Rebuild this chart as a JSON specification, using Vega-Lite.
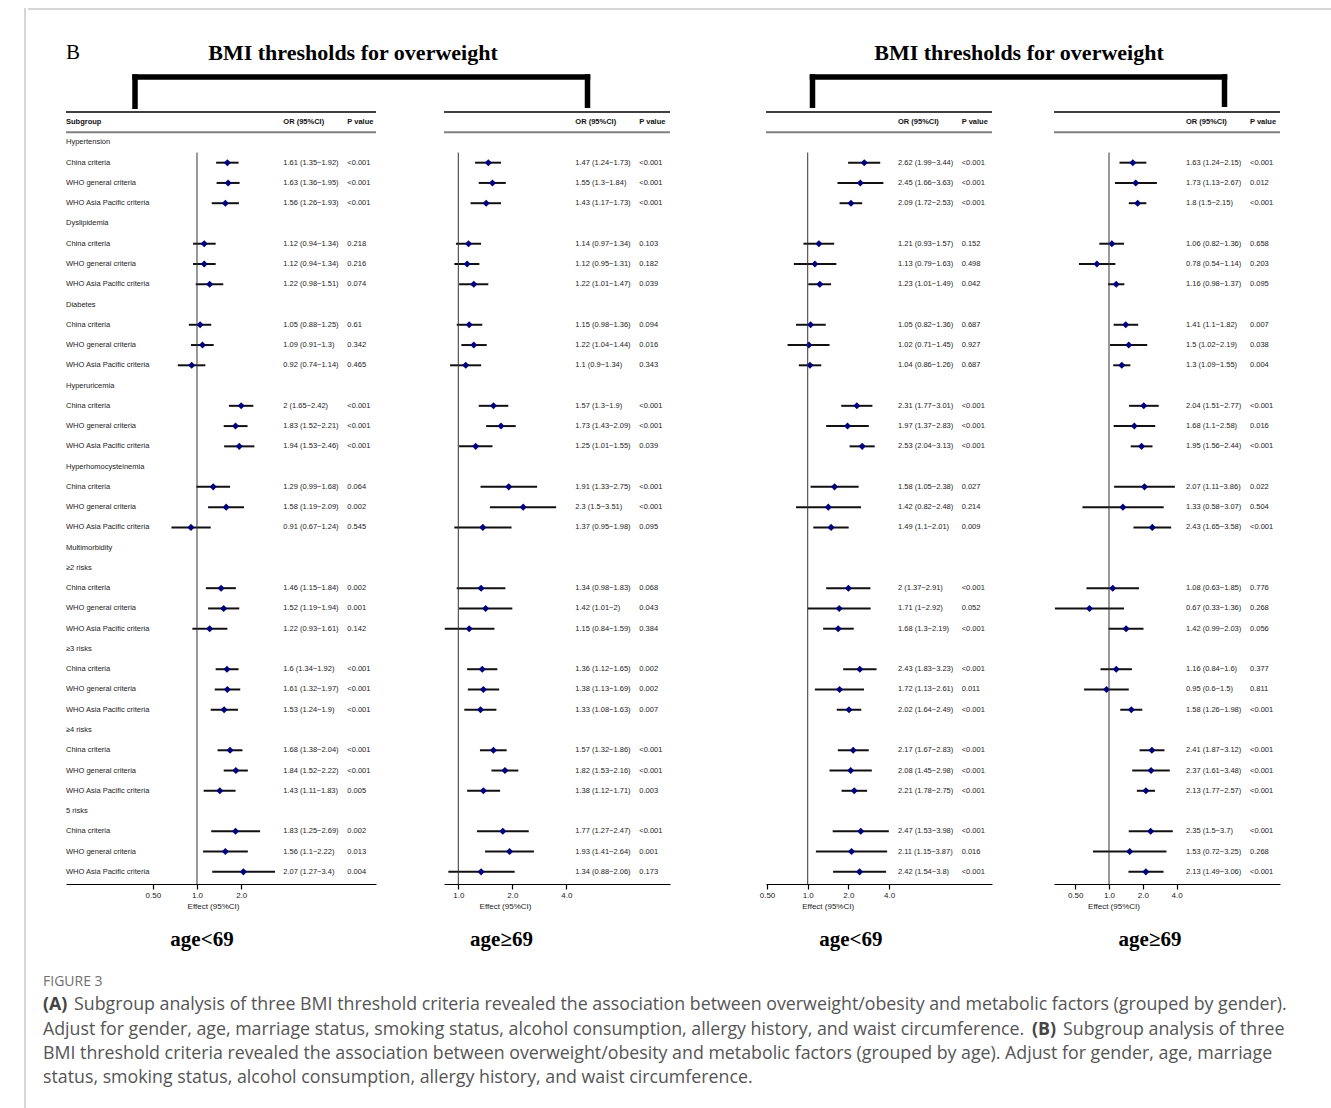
{
"$schema": "https://vega.github.io/schema/vega-lite/v6.json",
"background": "white",
"padding": {"left": 24, "top": 7, "right": 0, "bottom": 0},
"config": {
  "view": {"stroke": null},
  "font": "Liberation Sans",
  "axisX": {"grid": false, "domainColor": "black", "domainWidth": 1.2, "tickColor": "black", "tickSize": 5, "tickWidth": 1.2,
    "labelFontSize": 8, "labelColor": "#222", "labelPadding": 2, "labelFont": "Liberation Sans",
    "labelExpr": "datum.value < 0.9 ? '0.50' : format(datum.value, '.1f')",
    "titleFontSize": 8, "titleFontWeight": "normal", "titleColor": "#222", "titleFont": "Liberation Sans", "titleY": 18, "titleBaseline": "top"}
},
"datasets": {
  "lab": [
    {"r":1,"label":"Hypertension"},{"r":2,"label":"China criteria"},{"r":3,"label":"WHO general criteria"},{"r":4,"label":"WHO Asia Pacific criteria"},
    {"r":5,"label":"Dyslipidemia"},{"r":6,"label":"China criteria"},{"r":7,"label":"WHO general criteria"},{"r":8,"label":"WHO Asia Pacific criteria"},
    {"r":9,"label":"Diabetes"},{"r":10,"label":"China criteria"},{"r":11,"label":"WHO general criteria"},{"r":12,"label":"WHO Asia Pacific criteria"},
    {"r":13,"label":"Hyperuricemia"},{"r":14,"label":"China criteria"},{"r":15,"label":"WHO general criteria"},{"r":16,"label":"WHO Asia Pacific criteria"},
    {"r":17,"label":"Hyperhomocysteinemia"},{"r":18,"label":"China criteria"},{"r":19,"label":"WHO general criteria"},{"r":20,"label":"WHO Asia Pacific criteria"},
    {"r":21,"label":"Multimorbidity"},
    {"r":22,"label":"≥2 risks"},{"r":23,"label":"China criteria"},{"r":24,"label":"WHO general criteria"},{"r":25,"label":"WHO Asia Pacific criteria"},
    {"r":26,"label":"≥3 risks"},{"r":27,"label":"China criteria"},{"r":28,"label":"WHO general criteria"},{"r":29,"label":"WHO Asia Pacific criteria"},
    {"r":30,"label":"≥4 risks"},{"r":31,"label":"China criteria"},{"r":32,"label":"WHO general criteria"},{"r":33,"label":"WHO Asia Pacific criteria"},
    {"r":34,"label":"5 risks"},{"r":35,"label":"China criteria"},{"r":36,"label":"WHO general criteria"},{"r":37,"label":"WHO Asia Pacific criteria"}
  ],
  "v": [
    {"p":1,"r":2,"or":1.61,"lo":1.35,"hi":1.92,"t":"1.61 (1.35~1.92)","pv":"<0.001"},
    {"p":1,"r":3,"or":1.63,"lo":1.36,"hi":1.95,"t":"1.63 (1.36~1.95)","pv":"<0.001"},
    {"p":1,"r":4,"or":1.56,"lo":1.26,"hi":1.93,"t":"1.56 (1.26~1.93)","pv":"<0.001"},
    {"p":1,"r":6,"or":1.12,"lo":0.94,"hi":1.34,"t":"1.12 (0.94~1.34)","pv":"0.218"},
    {"p":1,"r":7,"or":1.12,"lo":0.94,"hi":1.34,"t":"1.12 (0.94~1.34)","pv":"0.216"},
    {"p":1,"r":8,"or":1.22,"lo":0.98,"hi":1.51,"t":"1.22 (0.98~1.51)","pv":"0.074"},
    {"p":1,"r":10,"or":1.05,"lo":0.88,"hi":1.25,"t":"1.05 (0.88~1.25)","pv":"0.61"},
    {"p":1,"r":11,"or":1.09,"lo":0.91,"hi":1.3,"t":"1.09 (0.91~1.3)","pv":"0.342"},
    {"p":1,"r":12,"or":0.92,"lo":0.74,"hi":1.14,"t":"0.92 (0.74~1.14)","pv":"0.465"},
    {"p":1,"r":14,"or":2,"lo":1.65,"hi":2.42,"t":"2 (1.65~2.42)","pv":"<0.001"},
    {"p":1,"r":15,"or":1.83,"lo":1.52,"hi":2.21,"t":"1.83 (1.52~2.21)","pv":"<0.001"},
    {"p":1,"r":16,"or":1.94,"lo":1.53,"hi":2.46,"t":"1.94 (1.53~2.46)","pv":"<0.001"},
    {"p":1,"r":18,"or":1.29,"lo":0.99,"hi":1.68,"t":"1.29 (0.99~1.68)","pv":"0.064"},
    {"p":1,"r":19,"or":1.58,"lo":1.19,"hi":2.09,"t":"1.58 (1.19~2.09)","pv":"0.002"},
    {"p":1,"r":20,"or":0.91,"lo":0.67,"hi":1.24,"t":"0.91 (0.67~1.24)","pv":"0.545"},
    {"p":1,"r":23,"or":1.46,"lo":1.15,"hi":1.84,"t":"1.46 (1.15~1.84)","pv":"0.002"},
    {"p":1,"r":24,"or":1.52,"lo":1.19,"hi":1.94,"t":"1.52 (1.19~1.94)","pv":"0.001"},
    {"p":1,"r":25,"or":1.22,"lo":0.93,"hi":1.61,"t":"1.22 (0.93~1.61)","pv":"0.142"},
    {"p":1,"r":27,"or":1.6,"lo":1.34,"hi":1.92,"t":"1.6 (1.34~1.92)","pv":"<0.001"},
    {"p":1,"r":28,"or":1.61,"lo":1.32,"hi":1.97,"t":"1.61 (1.32~1.97)","pv":"<0.001"},
    {"p":1,"r":29,"or":1.53,"lo":1.24,"hi":1.9,"t":"1.53 (1.24~1.9)","pv":"<0.001"},
    {"p":1,"r":31,"or":1.68,"lo":1.38,"hi":2.04,"t":"1.68 (1.38~2.04)","pv":"<0.001"},
    {"p":1,"r":32,"or":1.84,"lo":1.52,"hi":2.22,"t":"1.84 (1.52~2.22)","pv":"<0.001"},
    {"p":1,"r":33,"or":1.43,"lo":1.11,"hi":1.83,"t":"1.43 (1.11~1.83)","pv":"0.005"},
    {"p":1,"r":35,"or":1.83,"lo":1.25,"hi":2.69,"t":"1.83 (1.25~2.69)","pv":"0.002"},
    {"p":1,"r":36,"or":1.56,"lo":1.1,"hi":2.22,"t":"1.56 (1.1~2.22)","pv":"0.013"},
    {"p":1,"r":37,"or":2.07,"lo":1.27,"hi":3.4,"t":"2.07 (1.27~3.4)","pv":"0.004"},

    {"p":2,"r":2,"or":1.47,"lo":1.24,"hi":1.73,"t":"1.47 (1.24~1.73)","pv":"<0.001"},
    {"p":2,"r":3,"or":1.55,"lo":1.3,"hi":1.84,"t":"1.55 (1.3~1.84)","pv":"<0.001"},
    {"p":2,"r":4,"or":1.43,"lo":1.17,"hi":1.73,"t":"1.43 (1.17~1.73)","pv":"<0.001"},
    {"p":2,"r":6,"or":1.14,"lo":0.97,"hi":1.34,"t":"1.14 (0.97~1.34)","pv":"0.103"},
    {"p":2,"r":7,"or":1.12,"lo":0.95,"hi":1.31,"t":"1.12 (0.95~1.31)","pv":"0.182"},
    {"p":2,"r":8,"or":1.22,"lo":1.01,"hi":1.47,"t":"1.22 (1.01~1.47)","pv":"0.039"},
    {"p":2,"r":10,"or":1.15,"lo":0.98,"hi":1.36,"t":"1.15 (0.98~1.36)","pv":"0.094"},
    {"p":2,"r":11,"or":1.22,"lo":1.04,"hi":1.44,"t":"1.22 (1.04~1.44)","pv":"0.016"},
    {"p":2,"r":12,"or":1.1,"lo":0.9,"hi":1.34,"t":"1.1 (0.9~1.34)","pv":"0.343"},
    {"p":2,"r":14,"or":1.57,"lo":1.3,"hi":1.9,"t":"1.57 (1.3~1.9)","pv":"<0.001"},
    {"p":2,"r":15,"or":1.73,"lo":1.43,"hi":2.09,"t":"1.73 (1.43~2.09)","pv":"<0.001"},
    {"p":2,"r":16,"or":1.25,"lo":1.01,"hi":1.55,"t":"1.25 (1.01~1.55)","pv":"0.039"},
    {"p":2,"r":18,"or":1.91,"lo":1.33,"hi":2.75,"t":"1.91 (1.33~2.75)","pv":"<0.001"},
    {"p":2,"r":19,"or":2.3,"lo":1.5,"hi":3.51,"t":"2.3 (1.5~3.51)","pv":"<0.001"},
    {"p":2,"r":20,"or":1.37,"lo":0.95,"hi":1.98,"t":"1.37 (0.95~1.98)","pv":"0.095"},
    {"p":2,"r":23,"or":1.34,"lo":0.98,"hi":1.83,"t":"1.34 (0.98~1.83)","pv":"0.068"},
    {"p":2,"r":24,"or":1.42,"lo":1.01,"hi":2,"t":"1.42 (1.01~2)","pv":"0.043"},
    {"p":2,"r":25,"or":1.15,"lo":0.84,"hi":1.59,"t":"1.15 (0.84~1.59)","pv":"0.384"},
    {"p":2,"r":27,"or":1.36,"lo":1.12,"hi":1.65,"t":"1.36 (1.12~1.65)","pv":"0.002"},
    {"p":2,"r":28,"or":1.38,"lo":1.13,"hi":1.69,"t":"1.38 (1.13~1.69)","pv":"0.002"},
    {"p":2,"r":29,"or":1.33,"lo":1.08,"hi":1.63,"t":"1.33 (1.08~1.63)","pv":"0.007"},
    {"p":2,"r":31,"or":1.57,"lo":1.32,"hi":1.86,"t":"1.57 (1.32~1.86)","pv":"<0.001"},
    {"p":2,"r":32,"or":1.82,"lo":1.53,"hi":2.16,"t":"1.82 (1.53~2.16)","pv":"<0.001"},
    {"p":2,"r":33,"or":1.38,"lo":1.12,"hi":1.71,"t":"1.38 (1.12~1.71)","pv":"0.003"},
    {"p":2,"r":35,"or":1.77,"lo":1.27,"hi":2.47,"t":"1.77 (1.27~2.47)","pv":"<0.001"},
    {"p":2,"r":36,"or":1.93,"lo":1.41,"hi":2.64,"t":"1.93 (1.41~2.64)","pv":"0.001"},
    {"p":2,"r":37,"or":1.34,"lo":0.88,"hi":2.06,"t":"1.34 (0.88~2.06)","pv":"0.173"},

    {"p":3,"r":2,"or":2.62,"lo":1.99,"hi":3.44,"t":"2.62 (1.99~3.44)","pv":"<0.001"},
    {"p":3,"r":3,"or":2.45,"lo":1.66,"hi":3.63,"t":"2.45 (1.66~3.63)","pv":"<0.001"},
    {"p":3,"r":4,"or":2.09,"lo":1.72,"hi":2.53,"t":"2.09 (1.72~2.53)","pv":"<0.001"},
    {"p":3,"r":6,"or":1.21,"lo":0.93,"hi":1.57,"t":"1.21 (0.93~1.57)","pv":"0.152"},
    {"p":3,"r":7,"or":1.13,"lo":0.79,"hi":1.63,"t":"1.13 (0.79~1.63)","pv":"0.498"},
    {"p":3,"r":8,"or":1.23,"lo":1.01,"hi":1.49,"t":"1.23 (1.01~1.49)","pv":"0.042"},
    {"p":3,"r":10,"or":1.05,"lo":0.82,"hi":1.36,"t":"1.05 (0.82~1.36)","pv":"0.687"},
    {"p":3,"r":11,"or":1.02,"lo":0.71,"hi":1.45,"t":"1.02 (0.71~1.45)","pv":"0.927"},
    {"p":3,"r":12,"or":1.04,"lo":0.86,"hi":1.26,"t":"1.04 (0.86~1.26)","pv":"0.687"},
    {"p":3,"r":14,"or":2.31,"lo":1.77,"hi":3.01,"t":"2.31 (1.77~3.01)","pv":"<0.001"},
    {"p":3,"r":15,"or":1.97,"lo":1.37,"hi":2.83,"t":"1.97 (1.37~2.83)","pv":"<0.001"},
    {"p":3,"r":16,"or":2.53,"lo":2.04,"hi":3.13,"t":"2.53 (2.04~3.13)","pv":"<0.001"},
    {"p":3,"r":18,"or":1.58,"lo":1.05,"hi":2.38,"t":"1.58 (1.05~2.38)","pv":"0.027"},
    {"p":3,"r":19,"or":1.42,"lo":0.82,"hi":2.48,"t":"1.42 (0.82~2.48)","pv":"0.214"},
    {"p":3,"r":20,"or":1.49,"lo":1.1,"hi":2.01,"t":"1.49 (1.1~2.01)","pv":"0.009"},
    {"p":3,"r":23,"or":2,"lo":1.37,"hi":2.91,"t":"2 (1.37~2.91)","pv":"<0.001"},
    {"p":3,"r":24,"or":1.71,"lo":1,"hi":2.92,"t":"1.71 (1~2.92)","pv":"0.052"},
    {"p":3,"r":25,"or":1.68,"lo":1.3,"hi":2.19,"t":"1.68 (1.3~2.19)","pv":"<0.001"},
    {"p":3,"r":27,"or":2.43,"lo":1.83,"hi":3.23,"t":"2.43 (1.83~3.23)","pv":"<0.001"},
    {"p":3,"r":28,"or":1.72,"lo":1.13,"hi":2.61,"t":"1.72 (1.13~2.61)","pv":"0.011"},
    {"p":3,"r":29,"or":2.02,"lo":1.64,"hi":2.49,"t":"2.02 (1.64~2.49)","pv":"<0.001"},
    {"p":3,"r":31,"or":2.17,"lo":1.67,"hi":2.83,"t":"2.17 (1.67~2.83)","pv":"<0.001"},
    {"p":3,"r":32,"or":2.08,"lo":1.45,"hi":2.98,"t":"2.08 (1.45~2.98)","pv":"<0.001"},
    {"p":3,"r":33,"or":2.21,"lo":1.78,"hi":2.75,"t":"2.21 (1.78~2.75)","pv":"<0.001"},
    {"p":3,"r":35,"or":2.47,"lo":1.53,"hi":3.98,"t":"2.47 (1.53~3.98)","pv":"<0.001"},
    {"p":3,"r":36,"or":2.11,"lo":1.15,"hi":3.87,"t":"2.11 (1.15~3.87)","pv":"0.016"},
    {"p":3,"r":37,"or":2.42,"lo":1.54,"hi":3.8,"t":"2.42 (1.54~3.8)","pv":"<0.001"},

    {"p":4,"r":2,"or":1.63,"lo":1.24,"hi":2.15,"t":"1.63 (1.24~2.15)","pv":"<0.001"},
    {"p":4,"r":3,"or":1.73,"lo":1.13,"hi":2.67,"t":"1.73 (1.13~2.67)","pv":"0.012"},
    {"p":4,"r":4,"or":1.8,"lo":1.5,"hi":2.15,"t":"1.8 (1.5~2.15)","pv":"<0.001"},
    {"p":4,"r":6,"or":1.06,"lo":0.82,"hi":1.36,"t":"1.06 (0.82~1.36)","pv":"0.658"},
    {"p":4,"r":7,"or":0.78,"lo":0.54,"hi":1.14,"t":"0.78 (0.54~1.14)","pv":"0.203"},
    {"p":4,"r":8,"or":1.16,"lo":0.98,"hi":1.37,"t":"1.16 (0.98~1.37)","pv":"0.095"},
    {"p":4,"r":10,"or":1.41,"lo":1.1,"hi":1.82,"t":"1.41 (1.1~1.82)","pv":"0.007"},
    {"p":4,"r":11,"or":1.5,"lo":1.02,"hi":2.19,"t":"1.5 (1.02~2.19)","pv":"0.038"},
    {"p":4,"r":12,"or":1.3,"lo":1.09,"hi":1.55,"t":"1.3 (1.09~1.55)","pv":"0.004"},
    {"p":4,"r":14,"or":2.04,"lo":1.51,"hi":2.77,"t":"2.04 (1.51~2.77)","pv":"<0.001"},
    {"p":4,"r":15,"or":1.68,"lo":1.1,"hi":2.58,"t":"1.68 (1.1~2.58)","pv":"0.016"},
    {"p":4,"r":16,"or":1.95,"lo":1.56,"hi":2.44,"t":"1.95 (1.56~2.44)","pv":"<0.001"},
    {"p":4,"r":18,"or":2.07,"lo":1.11,"hi":3.86,"t":"2.07 (1.11~3.86)","pv":"0.022"},
    {"p":4,"r":19,"or":1.33,"lo":0.58,"hi":3.07,"t":"1.33 (0.58~3.07)","pv":"0.504"},
    {"p":4,"r":20,"or":2.43,"lo":1.65,"hi":3.58,"t":"2.43 (1.65~3.58)","pv":"<0.001"},
    {"p":4,"r":23,"or":1.08,"lo":0.63,"hi":1.85,"t":"1.08 (0.63~1.85)","pv":"0.776"},
    {"p":4,"r":24,"or":0.67,"lo":0.33,"hi":1.36,"t":"0.67 (0.33~1.36)","pv":"0.268"},
    {"p":4,"r":25,"or":1.42,"lo":0.99,"hi":2.03,"t":"1.42 (0.99~2.03)","pv":"0.056"},
    {"p":4,"r":27,"or":1.16,"lo":0.84,"hi":1.6,"t":"1.16 (0.84~1.6)","pv":"0.377"},
    {"p":4,"r":28,"or":0.95,"lo":0.6,"hi":1.5,"t":"0.95 (0.6~1.5)","pv":"0.811"},
    {"p":4,"r":29,"or":1.58,"lo":1.26,"hi":1.98,"t":"1.58 (1.26~1.98)","pv":"<0.001"},
    {"p":4,"r":31,"or":2.41,"lo":1.87,"hi":3.12,"t":"2.41 (1.87~3.12)","pv":"<0.001"},
    {"p":4,"r":32,"or":2.37,"lo":1.61,"hi":3.48,"t":"2.37 (1.61~3.48)","pv":"<0.001"},
    {"p":4,"r":33,"or":2.13,"lo":1.77,"hi":2.57,"t":"2.13 (1.77~2.57)","pv":"<0.001"},
    {"p":4,"r":35,"or":2.35,"lo":1.5,"hi":3.7,"t":"2.35 (1.5~3.7)","pv":"<0.001"},
    {"p":4,"r":36,"or":1.53,"lo":0.72,"hi":3.25,"t":"1.53 (0.72~3.25)","pv":"0.268"},
    {"p":4,"r":37,"or":2.13,"lo":1.49,"hi":3.06,"t":"2.13 (1.49~3.06)","pv":"<0.001"}
  ]
},
"hconcat": [
  {"width": 3, "height": 1101, "data": {"values": [{}]},
   "mark": {"type": "rule", "color": "#c8c8c8", "strokeWidth": 1.5},
   "encoding": {"x": {"datum": 1, "type": "quantitative", "scale": {"domain": [0, 3]}, "axis": null}}},
  {"vconcat": [
    {"width": 1304, "height": 101, "data": {"values": [{}]},
     "layer": [
       {"mark": {"type": "rule", "color": "#c8c8c8", "strokeWidth": 1.5},
        "encoding": {"y": {"datum": 8, "type": "quantitative", "scale": {"domain": [7, 108], "reverse": true, "nice": false, "zero": false}, "axis": null}}},
       {"mark": {"type": "text", "text": "B", "font": "Liberation Serif", "fontSize": 21, "align": "center", "baseline": "middle", "color": "black"},
        "encoding": {"x": {"datum": 72, "type": "quantitative", "scale": {"domain": [27, 1331], "nice": false, "zero": false}, "axis": null}, "y": {"datum": 52, "type": "quantitative", "axis": null}}},
       {"mark": {"type": "text", "text": "BMI thresholds for overweight", "font": "Liberation Serif", "fontSize": 22, "fontWeight": "bold", "align": "center", "baseline": "middle", "color": "black"},
        "encoding": {"x": {"datum": 352, "type": "quantitative", "axis": null}, "y": {"datum": 52, "type": "quantitative", "axis": null}}},
       {"mark": {"type": "text", "text": "BMI thresholds for overweight", "font": "Liberation Serif", "fontSize": 22, "fontWeight": "bold", "align": "center", "baseline": "middle", "color": "black"},
        "encoding": {"x": {"datum": 1018, "type": "quantitative", "axis": null}, "y": {"datum": 52, "type": "quantitative", "axis": null}}},
       {"mark": {"type": "rect", "color": "black"},
        "encoding": {"x": {"datum": 131.25, "type": "quantitative", "axis": null}, "x2": {"datum": 589.25}, "y": {"datum": 73.25, "type": "quantitative", "axis": null}, "y2": {"datum": 78.75}}},
       {"mark": {"type": "rect", "color": "black"},
        "encoding": {"x": {"datum": 131.25, "type": "quantitative", "axis": null}, "x2": {"datum": 136.75}, "y": {"datum": 73.25, "type": "quantitative", "axis": null}, "y2": {"datum": 108}}},
       {"mark": {"type": "rect", "color": "black"},
        "encoding": {"x": {"datum": 583.75, "type": "quantitative", "axis": null}, "x2": {"datum": 589.25}, "y": {"datum": 73.25, "type": "quantitative", "axis": null}, "y2": {"datum": 107}}},
       {"mark": {"type": "rect", "color": "black"},
        "encoding": {"x": {"datum": 808.75, "type": "quantitative", "axis": null}, "x2": {"datum": 1226.25}, "y": {"datum": 73.25, "type": "quantitative", "axis": null}, "y2": {"datum": 78.75}}},
       {"mark": {"type": "rect", "color": "black"},
        "encoding": {"x": {"datum": 808.75, "type": "quantitative", "axis": null}, "x2": {"datum": 814.25}, "y": {"datum": 73.25, "type": "quantitative", "axis": null}, "y2": {"datum": 107}}},
       {"mark": {"type": "rect", "color": "black"},
        "encoding": {"x": {"datum": 1220.75, "type": "quantitative", "axis": null}, "x2": {"datum": 1226.25}, "y": {"datum": 73.25, "type": "quantitative", "axis": null}, "y2": {"datum": 106}}}
     ]},
    {"hconcat": [
      {"width": 38, "height": 1, "data": {"values": [{}]}, "mark": {"type": "rule", "opacity": 0}, "encoding": {}},
      {"width": 310, "height": 774,
       "title": {"text": "age<69", "orient": "bottom", "anchor": "start", "align": "center", "dx": 137, "offset": 19, "font": "Liberation Serif", "fontSize": 21, "fontWeight": "bold", "color": "black"},
       "layer": [
         {"data": {"name": "v"}, "transform": [{"filter": "datum.p==1"}], "mark": {"type": "rule", "color": "#111", "strokeWidth": 2},
          "encoding": {"x": {"field": "lo", "type": "quantitative", "scale": {"type": "log", "domain": [0.1282, 16.56], "nice": false}, "axis": {"values": [0.5, 1, 2], "title": "Effect (95%CI)", "titleX": 147}},
                       "x2": {"field": "hi"},
                       "y": {"field": "r", "type": "quantitative", "scale": {"domain": [-0.6, 37.6], "reverse": true, "nice": false, "zero": false}, "axis": null}}},
         {"data": {"name": "v"}, "transform": [{"filter": "datum.p==1"}], "mark": {"type": "point", "shape": "diamond", "filled": true, "color": "#000080", "size": 50, "opacity": 1},
          "encoding": {"x": {"field": "or", "type": "quantitative"}, "y": {"field": "r", "type": "quantitative", "axis": null}}},
         {"data": {"values": [{}]}, "mark": {"type": "rule", "color": "black", "strokeWidth": 1.5}, "encoding": {"y": {"datum": -0.5, "type": "quantitative", "axis": null}}},
         {"data": {"values": [{}]}, "mark": {"type": "rule", "color": "#808080", "strokeWidth": 2}, "encoding": {"y": {"datum": 0.5, "type": "quantitative", "axis": null}}},
         {"data": {"values": [{}]}, "mark": {"type": "rule", "color": "#333", "strokeWidth": 1}, "encoding": {"x": {"datum": 1, "type": "quantitative"}, "y": {"datum": 1.5, "type": "quantitative", "axis": null}, "y2": {"datum": 37.6}}},
         {"data": {"values": [{}]}, "mark": {"type": "text", "text": "Subgroup", "fontWeight": "bold", "fontSize": 7.5, "align": "left", "baseline": "middle", "color": "#111"}, "encoding": {"x": {"datum": 0.1282, "type": "quantitative"}, "y": {"datum": 0, "type": "quantitative", "axis": null}}},
         {"data": {"values": [{}]}, "mark": {"type": "text", "text": "OR (95%CI)", "fontWeight": "bold", "fontSize": 7.5, "align": "left", "baseline": "middle", "color": "#111"}, "encoding": {"x": {"datum": 3.87, "type": "quantitative"}, "y": {"datum": 0, "type": "quantitative", "axis": null}}},
         {"data": {"values": [{}]}, "mark": {"type": "text", "text": "P value", "fontWeight": "bold", "fontSize": 7.5, "align": "left", "baseline": "middle", "color": "#111"}, "encoding": {"x": {"datum": 10.56, "type": "quantitative"}, "y": {"datum": 0, "type": "quantitative", "axis": null}}},
         {"data": {"name": "lab"}, "mark": {"type": "text", "fontSize": 7.5, "align": "left", "baseline": "middle", "color": "#222"}, "encoding": {"x": {"datum": 0.1282, "type": "quantitative"}, "y": {"field": "r", "type": "quantitative", "axis": null}, "text": {"field": "label"}}},
         {"data": {"name": "v"}, "transform": [{"filter": "datum.p==1"}], "mark": {"type": "text", "fontSize": 7.5, "align": "left", "baseline": "middle", "color": "#222"}, "encoding": {"x": {"datum": 3.87, "type": "quantitative"}, "y": {"field": "r", "type": "quantitative", "axis": null}, "text": {"field": "t"}}},
         {"data": {"name": "v"}, "transform": [{"filter": "datum.p==1"}], "mark": {"type": "text", "fontSize": 7.5, "align": "left", "baseline": "middle", "color": "#222"}, "encoding": {"x": {"datum": 10.56, "type": "quantitative"}, "y": {"field": "r", "type": "quantitative", "axis": null}, "text": {"field": "pv"}}}
       ]},
      {"width": 68, "height": 1, "data": {"values": [{}]}, "mark": {"type": "rule", "opacity": 0}, "encoding": {}},
      {"width": 226, "height": 774,
       "title": {"text": "age≥69", "orient": "bottom", "anchor": "start", "align": "center", "dx": 58.5, "offset": 19, "font": "Liberation Serif", "fontSize": 21, "fontWeight": "bold", "color": "black"},
       "layer": [
         {"data": {"name": "v"}, "transform": [{"filter": "datum.p==2"}], "mark": {"type": "rule", "color": "#111", "strokeWidth": 2},
          "encoding": {"x": {"field": "lo", "type": "quantitative", "scale": {"type": "log", "domain": [0.8322, 15.14], "nice": false}, "axis": {"values": [1, 2, 4], "title": "Effect (95%CI)", "titleX": 61}},
                       "x2": {"field": "hi"},
                       "y": {"field": "r", "type": "quantitative", "scale": {"domain": [-0.6, 37.6], "reverse": true, "nice": false, "zero": false}, "axis": null}}},
         {"data": {"name": "v"}, "transform": [{"filter": "datum.p==2"}], "mark": {"type": "point", "shape": "diamond", "filled": true, "color": "#000080", "size": 50, "opacity": 1},
          "encoding": {"x": {"field": "or", "type": "quantitative"}, "y": {"field": "r", "type": "quantitative", "axis": null}}},
         {"data": {"values": [{}]}, "mark": {"type": "rule", "color": "black", "strokeWidth": 1.5}, "encoding": {"y": {"datum": -0.5, "type": "quantitative", "axis": null}}},
         {"data": {"values": [{}]}, "mark": {"type": "rule", "color": "#808080", "strokeWidth": 2}, "encoding": {"y": {"datum": 0.5, "type": "quantitative", "axis": null}}},
         {"data": {"values": [{}]}, "mark": {"type": "rule", "color": "#333", "strokeWidth": 1}, "encoding": {"x": {"datum": 1, "type": "quantitative"}, "y": {"datum": 1.5, "type": "quantitative", "axis": null}, "y2": {"datum": 37.6}}},
         {"data": {"values": [{}]}, "mark": {"type": "text", "text": "OR (95%CI)", "fontWeight": "bold", "fontSize": 7.5, "align": "left", "baseline": "middle", "color": "#111"}, "encoding": {"x": {"datum": 4.49, "type": "quantitative"}, "y": {"datum": 0, "type": "quantitative", "axis": null}}},
         {"data": {"values": [{}]}, "mark": {"type": "text", "text": "P value", "fontWeight": "bold", "fontSize": 7.5, "align": "left", "baseline": "middle", "color": "#111"}, "encoding": {"x": {"datum": 10.21, "type": "quantitative"}, "y": {"datum": 0, "type": "quantitative", "axis": null}}},
         {"data": {"name": "v"}, "transform": [{"filter": "datum.p==2"}], "mark": {"type": "text", "fontSize": 7.5, "align": "left", "baseline": "middle", "color": "#222"}, "encoding": {"x": {"datum": 4.49, "type": "quantitative"}, "y": {"field": "r", "type": "quantitative", "axis": null}, "text": {"field": "t"}}},
         {"data": {"name": "v"}, "transform": [{"filter": "datum.p==2"}], "mark": {"type": "text", "fontSize": 7.5, "align": "left", "baseline": "middle", "color": "#222"}, "encoding": {"x": {"datum": 10.21, "type": "quantitative"}, "y": {"field": "r", "type": "quantitative", "axis": null}, "text": {"field": "pv"}}}
       ]},
      {"width": 96, "height": 1, "data": {"values": [{}]}, "mark": {"type": "rule", "opacity": 0}, "encoding": {}},
      {"width": 226, "height": 774,
       "title": {"text": "age<69", "orient": "bottom", "anchor": "start", "align": "center", "dx": 91.7, "offset": 19, "font": "Liberation Serif", "fontSize": 21, "fontWeight": "bold", "color": "black"},
       "layer": [
         {"data": {"name": "v"}, "transform": [{"filter": "datum.p==3"}], "mark": {"type": "rule", "color": "#111", "strokeWidth": 2},
          "encoding": {"x": {"field": "lo", "type": "quantitative", "scale": {"type": "log", "domain": [0.4915, 23.08], "nice": false}, "axis": {"values": [0.5, 1, 2, 4], "title": "Effect (95%CI)", "titleX": 61.7}},
                       "x2": {"field": "hi"},
                       "y": {"field": "r", "type": "quantitative", "scale": {"domain": [-0.6, 37.6], "reverse": true, "nice": false, "zero": false}, "axis": null}}},
         {"data": {"name": "v"}, "transform": [{"filter": "datum.p==3"}], "mark": {"type": "point", "shape": "diamond", "filled": true, "color": "#000080", "size": 50, "opacity": 1},
          "encoding": {"x": {"field": "or", "type": "quantitative"}, "y": {"field": "r", "type": "quantitative", "axis": null}}},
         {"data": {"values": [{}]}, "mark": {"type": "rule", "color": "black", "strokeWidth": 1.5}, "encoding": {"y": {"datum": -0.5, "type": "quantitative", "axis": null}}},
         {"data": {"values": [{}]}, "mark": {"type": "rule", "color": "#808080", "strokeWidth": 2}, "encoding": {"y": {"datum": 0.5, "type": "quantitative", "axis": null}}},
         {"data": {"values": [{}]}, "mark": {"type": "rule", "color": "#333", "strokeWidth": 1}, "encoding": {"x": {"datum": 1, "type": "quantitative"}, "y": {"datum": 1.5, "type": "quantitative", "axis": null}, "y2": {"datum": 37.6}}},
         {"data": {"values": [{}]}, "mark": {"type": "text", "text": "OR (95%CI)", "fontWeight": "bold", "fontSize": 7.5, "align": "left", "baseline": "middle", "color": "#111"}, "encoding": {"x": {"datum": 4.655, "type": "quantitative"}, "y": {"datum": 0, "type": "quantitative", "axis": null}}},
         {"data": {"values": [{}]}, "mark": {"type": "text", "text": "P value", "fontWeight": "bold", "fontSize": 7.5, "align": "left", "baseline": "middle", "color": "#111"}, "encoding": {"x": {"datum": 13.77, "type": "quantitative"}, "y": {"datum": 0, "type": "quantitative", "axis": null}}},
         {"data": {"name": "v"}, "transform": [{"filter": "datum.p==3"}], "mark": {"type": "text", "fontSize": 7.5, "align": "left", "baseline": "middle", "color": "#222"}, "encoding": {"x": {"datum": 4.655, "type": "quantitative"}, "y": {"field": "r", "type": "quantitative", "axis": null}, "text": {"field": "t"}}},
         {"data": {"name": "v"}, "transform": [{"filter": "datum.p==3"}], "mark": {"type": "text", "fontSize": 7.5, "align": "left", "baseline": "middle", "color": "#222"}, "encoding": {"x": {"datum": 13.77, "type": "quantitative"}, "y": {"field": "r", "type": "quantitative", "axis": null}, "text": {"field": "pv"}}}
       ]},
      {"width": 62, "height": 1, "data": {"values": [{}]}, "mark": {"type": "rule", "opacity": 0}, "encoding": {}},
      {"width": 226, "height": 774,
       "title": {"text": "age≥69", "orient": "bottom", "anchor": "start", "align": "center", "dx": 97, "offset": 19, "font": "Liberation Serif", "fontSize": 21, "fontWeight": "bold", "color": "black"},
       "layer": [
         {"data": {"name": "v"}, "transform": [{"filter": "datum.p==4"}], "mark": {"type": "rule", "color": "#111", "strokeWidth": 2},
          "encoding": {"x": {"field": "lo", "type": "quantitative", "scale": {"type": "log", "domain": [0.3237, 33.34], "nice": false}, "axis": {"values": [0.5, 1, 2, 4], "title": "Effect (95%CI)", "titleX": 59.5}},
                       "x2": {"field": "hi"},
                       "y": {"field": "r", "type": "quantitative", "scale": {"domain": [-0.6, 37.6], "reverse": true, "nice": false, "zero": false}, "axis": null}}},
         {"data": {"name": "v"}, "transform": [{"filter": "datum.p==4"}], "mark": {"type": "point", "shape": "diamond", "filled": true, "color": "#000080", "size": 50, "opacity": 1},
          "encoding": {"x": {"field": "or", "type": "quantitative"}, "y": {"field": "r", "type": "quantitative", "axis": null}}},
         {"data": {"values": [{}]}, "mark": {"type": "rule", "color": "black", "strokeWidth": 1.5}, "encoding": {"y": {"datum": -0.5, "type": "quantitative", "axis": null}}},
         {"data": {"values": [{}]}, "mark": {"type": "rule", "color": "#808080", "strokeWidth": 2}, "encoding": {"y": {"datum": 0.5, "type": "quantitative", "axis": null}}},
         {"data": {"values": [{}]}, "mark": {"type": "rule", "color": "#333", "strokeWidth": 1}, "encoding": {"x": {"datum": 1, "type": "quantitative"}, "y": {"datum": 1.5, "type": "quantitative", "axis": null}, "y2": {"datum": 37.6}}},
         {"data": {"values": [{}]}, "mark": {"type": "text", "text": "OR (95%CI)", "fontWeight": "bold", "fontSize": 7.5, "align": "left", "baseline": "middle", "color": "#111"}, "encoding": {"x": {"datum": 4.851, "type": "quantitative"}, "y": {"datum": 0, "type": "quantitative", "axis": null}}},
         {"data": {"values": [{}]}, "mark": {"type": "text", "text": "P value", "fontWeight": "bold", "fontSize": 7.5, "align": "left", "baseline": "middle", "color": "#111"}, "encoding": {"x": {"datum": 18.02, "type": "quantitative"}, "y": {"datum": 0, "type": "quantitative", "axis": null}}},
         {"data": {"name": "v"}, "transform": [{"filter": "datum.p==4"}], "mark": {"type": "text", "fontSize": 7.5, "align": "left", "baseline": "middle", "color": "#222"}, "encoding": {"x": {"datum": 4.851, "type": "quantitative"}, "y": {"field": "r", "type": "quantitative", "axis": null}, "text": {"field": "t"}}},
         {"data": {"name": "v"}, "transform": [{"filter": "datum.p==4"}], "mark": {"type": "text", "fontSize": 7.5, "align": "left", "baseline": "middle", "color": "#222"}, "encoding": {"x": {"datum": 18.02, "type": "quantitative"}, "y": {"field": "r", "type": "quantitative", "axis": null}, "text": {"field": "pv"}}}
       ]}
    ], "spacing": 0, "bounds": "flush"},
    {"width": 1304, "height": 154, "data": {"values": [{}]},
     "layer": [
       {"mark": {"type": "text", "text": "FIGURE 3", "font": "Open Sans", "fontSize": 14, "color": "#707070", "align": "left", "baseline": "middle"},
        "encoding": {"x": {"datum": 42, "type": "quantitative", "scale": {"domain": [27, 1331], "nice": false, "zero": false}, "axis": null},
                     "y": {"datum": 979, "type": "quantitative", "scale": {"domain": [947, 1101], "reverse": true, "nice": false, "zero": false}, "axis": null}}},
       {"mark": {"type": "text", "text": "(A)", "font": "Open Sans", "fontSize": 17.8, "fontWeight": "bold", "color": "#444", "align": "left", "baseline": "middle"},
        "encoding": {"x": {"datum": 42, "type": "quantitative", "axis": null}, "y": {"datum": 1002, "type": "quantitative", "axis": null}}},
       {"mark": {"type": "text", "text": "Subgroup analysis of three BMI threshold criteria revealed the association between overweight/obesity and metabolic factors (grouped by gender).", "font": "Open Sans", "fontSize": 17.8, "color": "#555", "align": "left", "baseline": "middle"},
        "encoding": {"x": {"datum": 73, "type": "quantitative", "axis": null}, "y": {"datum": 1002, "type": "quantitative", "axis": null}}},
       {"mark": {"type": "text", "text": "Adjust for gender, age, marriage status, smoking status, alcohol consumption, allergy history, and waist circumference.", "font": "Open Sans", "fontSize": 17.8, "color": "#555", "align": "left", "baseline": "middle"},
        "encoding": {"x": {"datum": 42, "type": "quantitative", "axis": null}, "y": {"datum": 1027, "type": "quantitative", "axis": null}}},
       {"mark": {"type": "text", "text": "(B)", "font": "Open Sans", "fontSize": 17.8, "fontWeight": "bold", "color": "#444", "align": "left", "baseline": "middle"},
        "encoding": {"x": {"datum": 1031, "type": "quantitative", "axis": null}, "y": {"datum": 1027, "type": "quantitative", "axis": null}}},
       {"mark": {"type": "text", "text": "Subgroup analysis of three", "font": "Open Sans", "fontSize": 17.8, "color": "#555", "align": "left", "baseline": "middle"},
        "encoding": {"x": {"datum": 1062, "type": "quantitative", "axis": null}, "y": {"datum": 1027, "type": "quantitative", "axis": null}}},
       {"mark": {"type": "text", "text": "BMI threshold criteria revealed the association between overweight/obesity and metabolic factors (grouped by age). Adjust for gender, age, marriage", "font": "Open Sans", "fontSize": 17.8, "color": "#555", "align": "left", "baseline": "middle"},
        "encoding": {"x": {"datum": 42, "type": "quantitative", "axis": null}, "y": {"datum": 1051, "type": "quantitative", "axis": null}}},
       {"mark": {"type": "text", "text": "status, smoking status, alcohol consumption, allergy history, and waist circumference.", "font": "Open Sans", "fontSize": 17.8, "color": "#555", "align": "left", "baseline": "middle"},
        "encoding": {"x": {"datum": 42, "type": "quantitative", "axis": null}, "y": {"datum": 1075, "type": "quantitative", "axis": null}}}
     ]}
  ], "spacing": 0}
],
"spacing": 0
}
